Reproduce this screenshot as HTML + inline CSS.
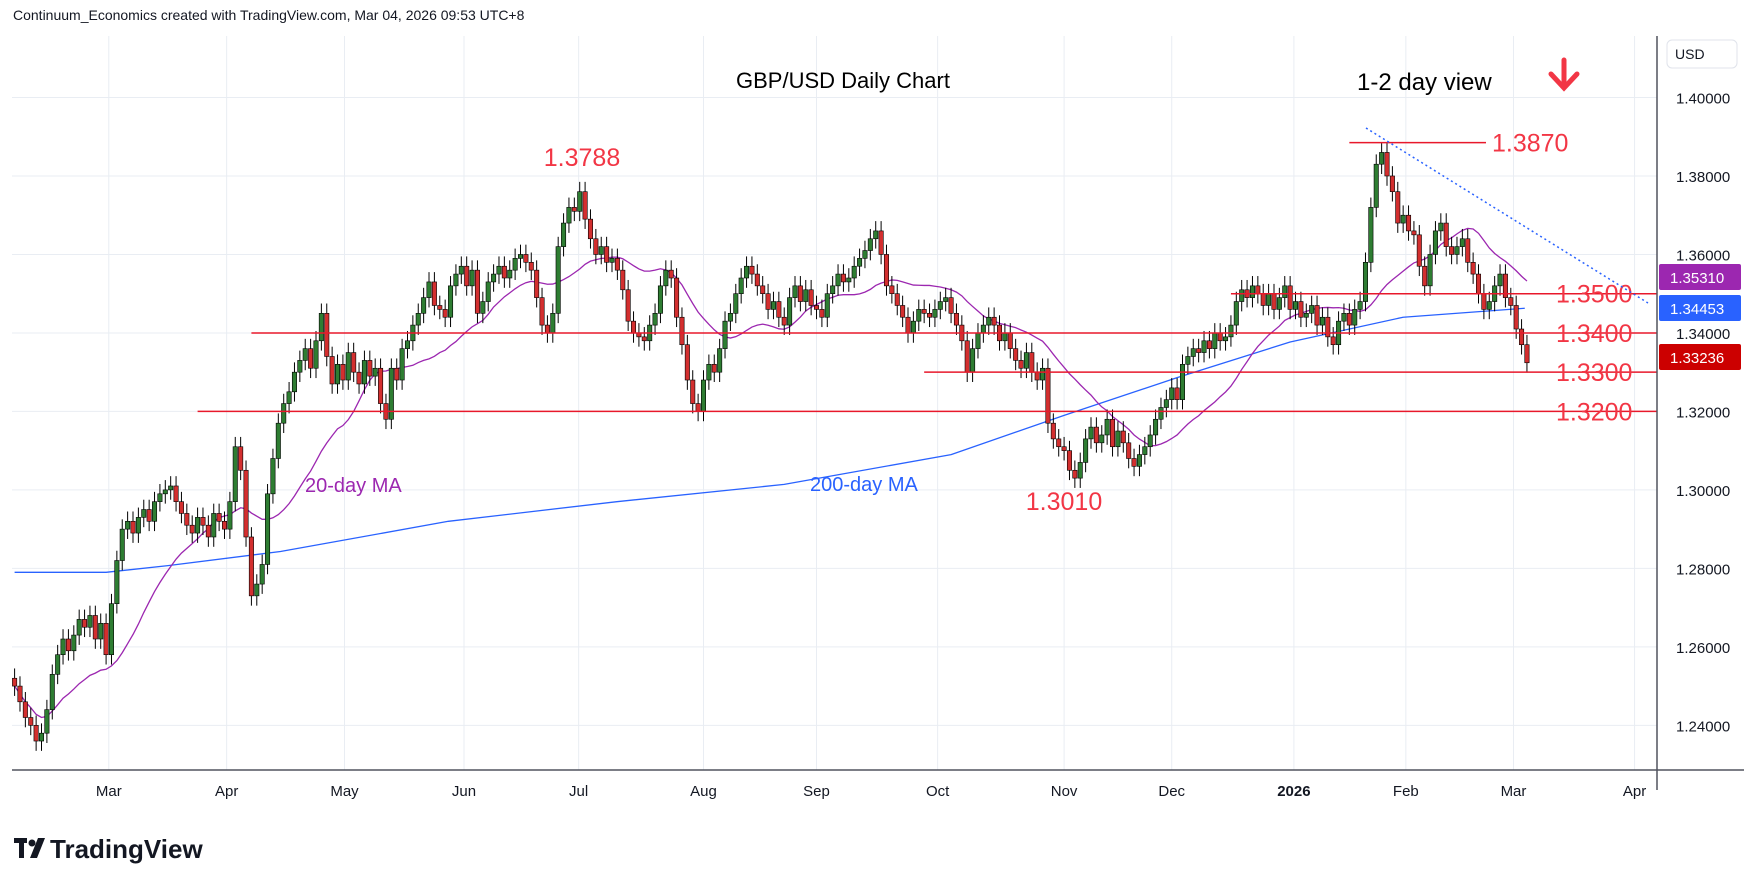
<!DOCTYPE html>
<html><head><meta charset="utf-8"><style>
html,body{margin:0;padding:0;background:#fff;}
body{width:1758px;height:886px;overflow:hidden;font-family:"Liberation Sans",sans-serif;}
svg text{font-family:"Liberation Sans",sans-serif;}
</style></head><body>
<svg id="chart" width="1758" height="886" xmlns="http://www.w3.org/2000/svg">
<text x="13" y="20" font-size="14" fill="#131722">Continuum_Economics created with TradingView.com, Mar 04, 2026 09:53 UTC+8</text>
<rect x="12" y="36" width="1645" height="734" fill="#fff"/>
<g id="grid"></g>
<g id="marks"></g>
<g id="annot"></g>
<line x1="1657" y1="36" x2="1657" y2="790" stroke="#50535e" stroke-width="1.5"/>
<line x1="12" y1="770" x2="1744" y2="770" stroke="#50535e" stroke-width="1.5"/>
<rect x="1667" y="40" width="70" height="28" rx="5" fill="#fff" stroke="#e0e3eb"/>
<text x="1675" y="59" font-size="14" fill="#131722">USD</text>
<g id="yaxis"></g>
<g id="xaxis"></g>
<g>
<rect x="14" y="838" width="13" height="5" fill="#131722"/>
<rect x="19" y="838" width="5" height="20" fill="#131722"/>
<circle cx="32" cy="843" r="3.5" fill="#131722"/>
<polygon points="38,838 45,838 37,858 30,858" fill="#131722"/>
<text x="50" y="858" font-size="26" font-weight="bold" fill="#131722">TradingView</text>
</g>
</svg>
<script>
const closes = [
1.250,1.246,1.242,1.240,1.236,1.238,1.244,1.253,1.258,1.262,1.259,1.263,1.267,1.265,1.268,1.262,1.266,1.258,
1.271,1.282,1.290,1.292,1.289,1.293,1.295,1.292,1.297,1.299,1.300,1.301,1.297,1.294,1.291,1.289,1.293,1.291,1.288,1.294,1.292,1.290,
1.297,1.311,1.305,1.288,1.273,1.276,1.281,1.299,1.308,1.317,1.322,1.325,1.330,1.333,1.336,1.331,1.338,1.345,1.334,1.327,1.332,1.328,
1.335,1.330,1.327,1.333,1.329,1.331,1.322,1.318,1.331,1.328,1.336,1.338,1.342,1.345,1.349,1.353,1.347,1.346,1.344,1.352,1.355,1.357,
1.352,1.356,1.345,1.348,1.353,1.355,1.357,1.354,1.356,1.359,1.360,1.358,1.356,1.349,1.342,1.340,1.345,1.362,1.368,1.372,1.371,
1.376,1.369,1.364,1.360,1.362,1.358,1.359,1.356,1.351,1.343,1.340,1.339,1.338,1.342,1.345,1.352,1.356,1.354,1.344,1.337,1.328,1.322,1.320,
1.328,1.332,1.330,1.336,1.343,1.345,1.350,1.354,1.357,1.355,1.352,1.350,1.346,1.348,1.344,1.342,1.349,1.352,1.348,1.351,1.347,
1.346,1.344,1.350,1.352,1.355,1.353,1.354,1.357,1.359,1.361,1.364,1.366,1.360,1.352,1.350,1.347,1.344,1.340,1.343,1.346,1.345,1.344,
1.346,1.348,1.349,1.345,1.342,1.338,1.330,1.336,1.340,1.342,1.344,1.342,1.338,1.340,1.336,1.333,1.331,1.335,1.330,1.328,1.331,1.317,1.313,1.311,
1.310,1.305,1.303,1.307,1.313,1.316,1.312,1.314,1.318,1.311,1.315,1.312,1.308,1.306,1.309,1.311,1.314,1.318,1.321,1.323,
1.326,1.323,1.332,1.334,1.336,1.335,1.338,1.336,1.340,1.338,1.339,1.342,1.348,1.351,1.349,1.352,1.350,1.347,1.350,1.346,1.349,1.352,1.346,
1.348,1.344,1.345,1.347,1.342,1.344,1.339,1.337,1.343,1.345,1.342,1.346,1.348,1.358,1.372,1.383,1.386,1.380,1.376,1.368,1.370,
1.366,1.365,1.357,1.352,1.360,1.366,1.368,1.362,1.360,1.362,1.364,1.358,1.355,1.350,1.346,1.348,1.352,1.355,1.349,1.347,
1.341,1.337,1.3324];
const firstOpen = 1.252;
const ma200Idx = [0,17,28.5,49.4,80.6,111.9,143,174,195,216,237,258,280.6];
const ma200Val = [1.279,1.279,1.2807,1.2843,1.292,1.297,1.3014,1.309,1.319,1.3286,1.3377,1.344,1.3463];
const priceTicks = [1.40,1.38,1.36,1.34,1.32,1.30,1.28,1.26,1.24];
const monthLabels = ["Mar","Apr","May","Jun","Jul","Aug","Sep","Oct","Nov","Dec","2026","Feb","Mar","Apr"];
const monthIdx = [17.5,39.4,61.3,83.5,104.8,128,149,171.5,195,215,237.7,258.5,278.5,301];
const levels = [1.35,1.34,1.33,1.32,1.3885];
const levelLabels = ["1.3500","1.3400","1.3300","1.3200","1.3870"];
const levelStartIdx = [226,44,169,34,248];

const NS="http://www.w3.org/2000/svg";
const xS = i => 14.6 + i*5.382;
const yS = p => 97.5 + (1.40-p)*3924;
function mk(tag, attrs, parent){const e=document.createElementNS(NS,tag);for(const k in attrs)e.setAttribute(k,attrs[k]);parent.appendChild(e);return e;}
const grid=document.getElementById('grid'), marks=document.getElementById('marks'), annot=document.getElementById('annot');
const yaxis=document.getElementById('yaxis'), xaxis=document.getElementById('xaxis');

priceTicks.forEach(p=>{
  const l=mk('line',{x1:12,x2:1657,y1:yS(p),y2:yS(p),stroke:'#e9edf3','stroke-width':1},grid);
  
  
  const t=mk('text',{x:1676,y:yS(p)+6,'font-size':15,fill:'#131722'},yaxis);
  t.textContent=p.toFixed(5);
  
  
});
monthLabels.forEach((m,k)=>{
  const x=xS(monthIdx[k]);
  const l=mk('line',{x1:x,x2:x,y1:36,y2:770,stroke:'#e9edf3','stroke-width':1},grid);
  
  
  const t=mk('text',{x:x,y:796,'font-size':15,fill:'#131722','text-anchor':'middle','font-weight':m==='2026'?'bold':'normal'},xaxis);
  t.textContent=m;
  
  
});

let pts=ma200Idx.map((i,k)=>xS(i)+','+yS(ma200Val[k])).join(' ');
let pl=mk('polyline',{points:pts,fill:'none',stroke:'#2962ff','stroke-width':1.3,'stroke-linejoin':'round'},marks);


let ma20=[];
closes.forEach((c,i)=>{const s=Math.max(0,i-19);const a=closes.slice(s,i+1);ma20.push(a.reduce((u,v)=>u+v,0)/a.length);});
pl=mk('polyline',{points:ma20.map((v,i)=>xS(i)+','+yS(v)).join(' '),fill:'none',stroke:'#9c27b0','stroke-width':1.3},marks);



closes.forEach((c,i)=>{
  const o = i===0?firstOpen:closes[i-1];
  const up=c>=o;
  const hi=Math.max(o,c)+0.0025, lo=Math.min(o,c)-0.0025;
  const x=xS(i);
  const w=mk('line',{x1:x,x2:x,y1:yS(hi),y2:yS(lo),stroke:'#000','stroke-width':1},marks);
  
  
  const top=yS(Math.max(o,c)), h=Math.max(1,yS(Math.min(o,c))-top);
  const b=mk('rect',{x:x-2.2,y:top,width:4.4,height:h,fill:up?'#2e7d32':'#d32f2f',stroke:'#000','stroke-width':0.6},marks);
  
  
});

levels.forEach((p,k)=>{
  const x1=xS(levelStartIdx[k]);
  const x2=k===4?1486:1657;
  const l=mk('line',{x1:x1,x2:x2,y1:yS(p),y2:yS(p),stroke:'#e8182b','stroke-width':1.5},annot);
  
  
  const t=mk('text',{x:k===4?1492:1556,y:yS(p)+9,'font-size':25,fill:'#f23645'},annot);
  t.textContent=levelLabels[k];
  
  
});
let tl=mk('line',{x1:1366,y1:128,x2:1648,y2:303,stroke:'#2962ff','stroke-width':1.5,'stroke-dasharray':'2,3'},annot);



function txt(s,x,y,size,fill,name,anchor,weight){const t=mk('text',{x:x,y:y,'font-size':size,fill:fill,'text-anchor':anchor||'start','font-weight':weight||'normal'},annot);t.textContent=s;}
txt('GBP/USD Daily Chart',843,88,22,'#000','chart-title','middle');
txt('1-2 day view',1357,90,24,'#000','view-label','start');
txt('1.3788',582,166,25,'#f23645','high-label','middle');
txt('1.3010',1064,510,25,'#f23645','low-label','middle');
txt('20-day MA',305,492,20,'#9c27b0','ma20-label');
txt('200-day MA',810,491,20,'#2962ff','ma200-label');
let ar=mk('path',{d:'M1564,60 L1564,86 M1551,74 L1564,88 L1577,74',stroke:'#f23645','stroke-width':5,fill:'none','stroke-linecap':'round'},annot);



const tagVals=[1.35310,1.34453,1.33236];
const tagCols=['#9c27b0','#2962ff','#cc0000'];
const tagNames=['ma20-price-tag','ma200-price-tag','last-price-tag'];
tagVals.forEach((v,k)=>{
  const y=[277,308,357][k];
  const r=mk('rect',{x:1659,y:y-13,width:82,height:26,rx:2,fill:tagCols[k]},yaxis);
  
  
  const t=mk('text',{x:1670,y:y+6,'font-size':15,fill:'#fff'},yaxis);
  t.textContent=v.toFixed(5);
  
  
});
</script>
</body></html>
